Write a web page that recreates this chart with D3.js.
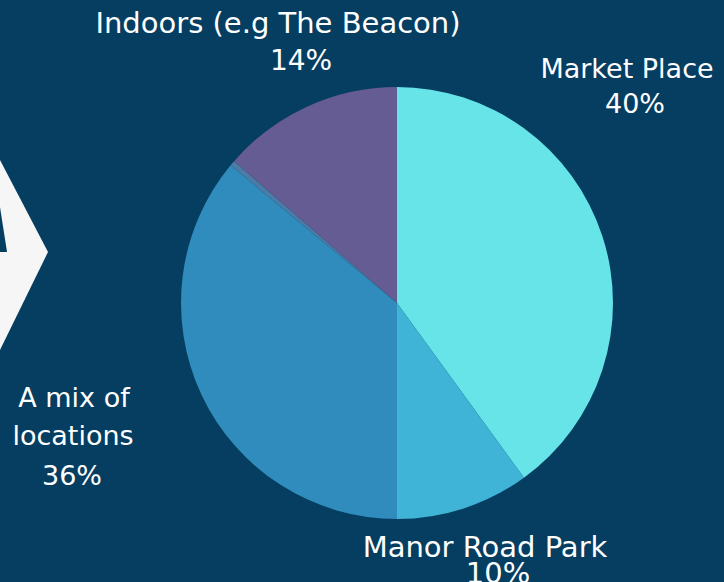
<!DOCTYPE html>
<html>
<head>
<meta charset="utf-8">
<script src="https://cdn.jsdelivr.net/npm/d3@7"></script>
<style>
  body { margin: 0; background: #053e61; }
  svg { display: block; }
  text { font-family: "DejaVu Sans", "Noto Sans", sans-serif; fill: #ffffff; }
</style>
</head>
<body>
<script>
var width = 724;
var height = 582;

// data
var categories = ["Market Place", "Manor Road Park", "A mix of locations", "Other", "Indoors (e.g The Beacon)"];
var values = [40, 10, 36, 0.4, 13.6];
var pctLabels = ["40%", "10%", "36%", "", "14%"];
var colors = ["#67e4e8", "#3fb4d6", "#2f8cbc", "#4b7ca8", "#655c93"];

// label placement (line text, centre x, baseline y, font size)
var labelLines = [
  [["Market Place", 627, 78, 27], ["40%", 635, 113, 27]],
  [["Manor Road Park", 485, 557, 29], ["10%", 498, 583, 29]],
  [["A mix of", 74, 407, 27], ["locations", 73, 445, 27], ["36%", 72, 485, 27]],
  [],
  [["Indoors (e.g The Beacon)", 278, 33, 29], ["14%", 301, 70, 28]]
];

var svg = d3.select("body").append("svg")
    .attr("width", width)
    .attr("height", height);

svg.append("rect")
    .attr("width", width)
    .attr("height", height)
    .attr("fill", "#053e61");

// white chevron decoration at the left edge
svg.append("path")
    .attr("d", "M0,160 L48,252 L0,350 Z")
    .attr("fill", "#f6f6f6");
svg.append("path")
    .attr("d", "M0,207 L7,252 L0,252 Z")
    .attr("fill", "#053e61");

var cx = 397, cy = 303, radius = 216;

var pie = d3.pie().sort(null).value(function(d) { return d; });
var arc = d3.arc().innerRadius(0).outerRadius(radius);

var g = svg.append("g").attr("transform", "translate(" + cx + "," + cy + ")");

g.selectAll("path")
    .data(pie(values))
    .enter().append("path")
      .attr("d", arc)
      .attr("fill", function(d, i) { return colors[i]; });

var labels = svg.append("g");
labelLines.forEach(function(lines, i) {
  lines.forEach(function(l) {
    labels.append("text")
        .attr("x", l[1])
        .attr("y", l[2])
        .attr("text-anchor", "middle")
        .style("font-size", l[3] + "px")
        .text(l[0]);
  });
});
</script>
</body>
</html>
